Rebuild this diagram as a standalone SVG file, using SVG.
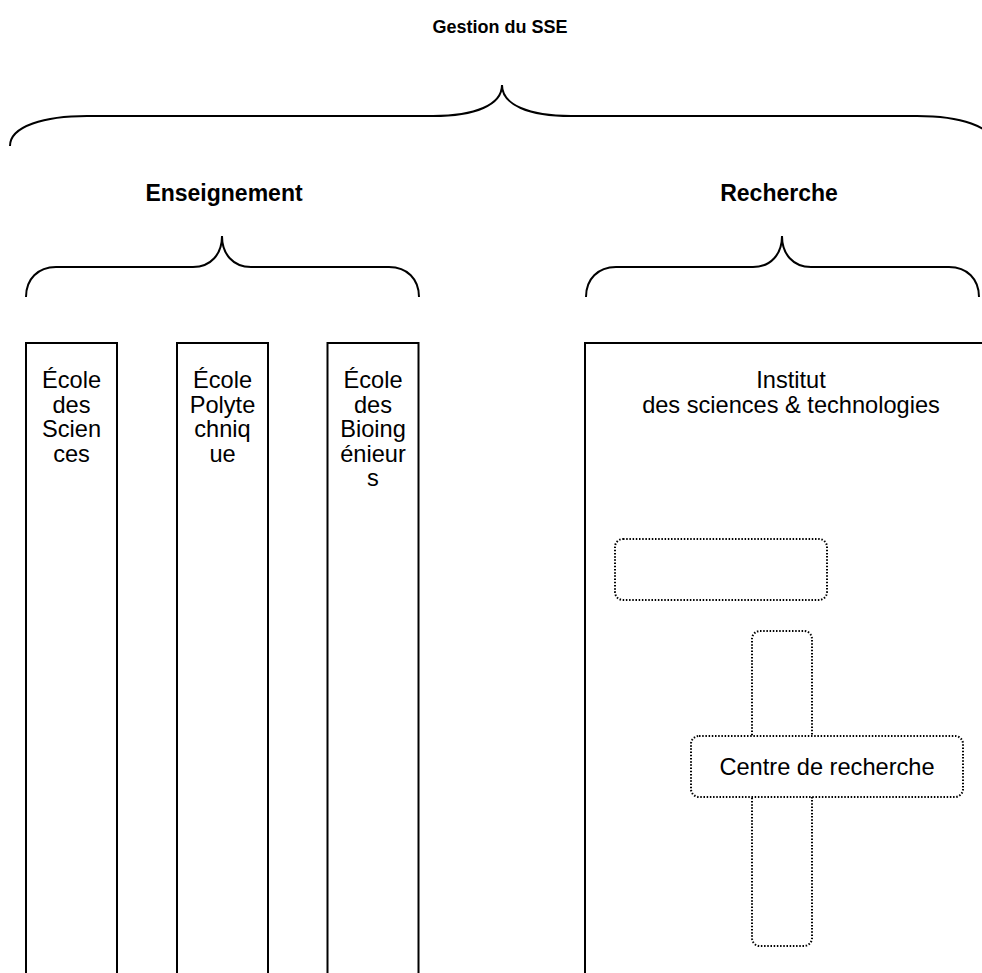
<svg xmlns="http://www.w3.org/2000/svg" width="982" height="973" viewBox="0 0 982 973">
<style>
.bg{fill:#ffffff}
.brace{fill:none;stroke:#000;stroke-width:2}
.box{fill:#ffffff;stroke:#000;stroke-width:2}
.dot{fill:#ffffff;stroke:#000;stroke-width:2;stroke-dasharray:1.5 1.7}
.title{font-family:"Liberation Sans",Arial,sans-serif;font-weight:bold;font-size:18px;fill:#000;text-anchor:middle}
.sub{font-family:"Liberation Sans",Arial,sans-serif;font-weight:bold;font-size:23px;fill:#000;text-anchor:middle}
.lbl{font-family:"Liberation Sans",Arial,sans-serif;font-size:23.6px;fill:#000;text-anchor:middle}
</style>
<rect class="bg" x="0" y="0" width="982" height="973"/>
<g id="connectors">
<path id="brace-top" class="brace" d="M10,146 C10,126 45,116 87,116 L433,116 C475,116 502,105 502,85 C502,105 529,116 571,116 L917,116 C959,116 994,126 994,146"/>
<path id="brace-ens" class="brace" d="M26,297 C26,279 38,267 56,267 L193,267 C211,267 222,254 222,236 C222,254 233,267 251,267 L389,267 C407,267 419,279 419,297"/>
<path id="brace-rech" class="brace" transform="translate(560,0)" d="M26,297 C26,279 38,267 56,267 L193,267 C211,267 222,254 222,236 C222,254 233,267 251,267 L389,267 C407,267 419,279 419,297"/>
</g>
<g id="title-gestion"><text class="title" x="500" y="33">Gestion du SSE</text></g>
<g id="title-enseignement"><text class="sub" x="224" y="201">Enseignement</text></g>
<g id="title-recherche"><text class="sub" x="779" y="201">Recherche</text></g>
<g id="ecole-sciences">
<rect class="box" x="26" y="343" width="91" height="660"/>
<text class="lbl" x="71.5" y="388"><tspan x="71.5" y="388">École</tspan><tspan x="71.5" y="412.5">des</tspan><tspan x="71.5" y="437">Scien</tspan><tspan x="71.5" y="461.5">ces</tspan></text>
</g>
<g id="ecole-polytechnique">
<rect class="box" x="177" y="343" width="91" height="660"/>
<text class="lbl" x="222.5" y="388"><tspan x="222.5" y="388">École</tspan><tspan x="222.5" y="412.5">Polyte</tspan><tspan x="222.5" y="437">chniq</tspan><tspan x="222.5" y="461.5">ue</tspan></text>
</g>
<g id="ecole-bioingenieurs">
<rect class="box" x="327.5" y="343" width="91" height="660"/>
<text class="lbl" x="373" y="388"><tspan x="373" y="388">École</tspan><tspan x="373" y="412.5">des</tspan><tspan x="373" y="437">Bioing</tspan><tspan x="373" y="461.5">énieur</tspan><tspan x="373" y="486">s</tspan></text>
</g>
<g id="institut">
<rect class="box" x="585" y="343" width="412" height="660"/>
<text class="lbl" x="791" y="388"><tspan x="791" y="388">Institut</tspan><tspan x="791" y="412.5">des sciences &amp; technologies</tspan></text>
</g>
<g id="dotted-box-top">
<rect class="dot" x="615" y="539" width="212" height="61" rx="8" ry="8"/>
</g>
<g id="dotted-box-vertical">
<rect class="dot" x="752" y="631" width="60" height="315" rx="8" ry="8"/>
</g>
<g id="centre-recherche">
<rect class="dot" x="691" y="736" width="272" height="61" rx="8" ry="8"/>
<text class="lbl" x="827" y="774.5">Centre de recherche</text>
</g>
</svg>
